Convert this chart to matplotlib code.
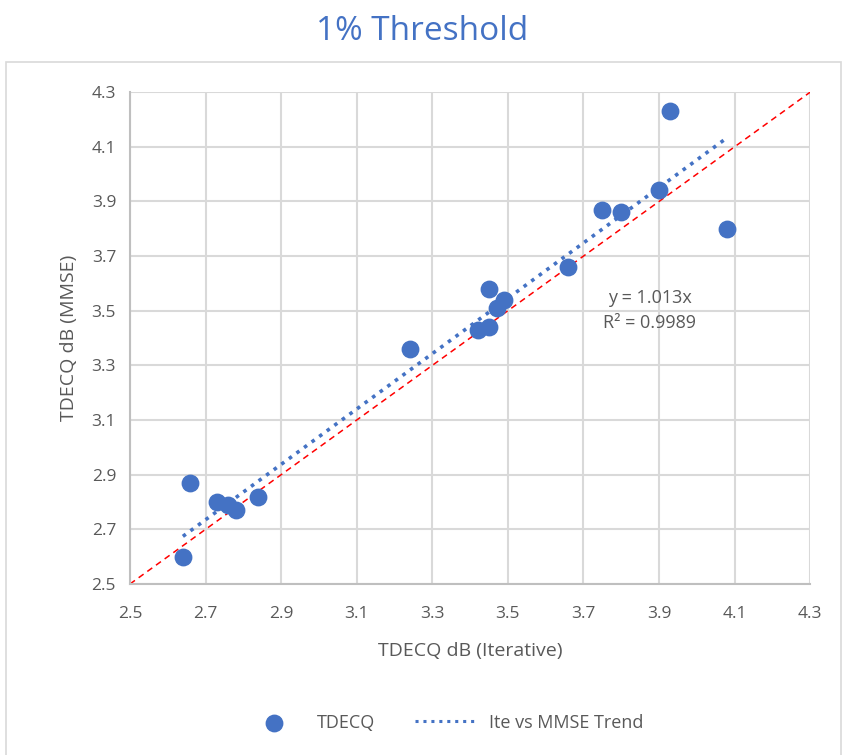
import numpy as np
import matplotlib.pyplot as plt
from matplotlib.patches import Rectangle

# TDECQ values
tdecq_iter = [2.64, 2.66, 2.73, 2.76, 2.78, 2.84, 3.24, 3.42, 3.45, 3.45, 3.47, 3.49, 3.66, 3.75, 3.80, 3.90, 3.93, 4.08]
tdecq_mmse = [2.60, 2.87, 2.80, 2.79, 2.77, 2.82, 3.36, 3.43, 3.44, 3.58, 3.51, 3.54, 3.66, 3.87, 3.86, 3.94, 4.23, 3.80]
slope = 1.013
r2 = 0.9989
ticks = [2.5, 2.7, 2.9, 3.1, 3.3, 3.5, 3.7, 3.9, 4.1, 4.3]

blue = '#4472C4'
grey_txt = '#595959'

plt.rcParams['font.family'] = ['Open Sans', 'DejaVu Sans']

fig = plt.figure(figsize=(8.44, 7.55), dpi=100)
ax = fig.add_axes([0.154, 0.2265, 0.806, 0.6515])

# рамка вокруг области графика
fig.patches.append(Rectangle((0.007, -0.01), 0.99, 0.928, transform=fig.transFigure,
                             fill=False, edgecolor='#D9D9D9', linewidth=1.2))

ax.plot([2.5, 4.3], [2.5, 4.3], color='red', linestyle=(0, (4, 3)), linewidth=1.1, zorder=2)
ax.scatter(tdecq_iter, tdecq_mmse, s=140, color=blue, zorder=3, label='TDECQ')
xt = np.array([min(tdecq_iter), max(tdecq_iter)])
ax.plot(xt, slope * xt, color=blue, linestyle=(0, (1, 1.6)), linewidth=2.6, zorder=2,
        label='Ite vs MMSE Trend')

ax.text(3.875, 3.5, f'y = {slope:.3f}x\nR² = {r2}',
        ha='center', va='center', fontsize=13, color=grey_txt, linespacing=1.5)

ax.set_xlim(2.5, 4.3)
ax.set_ylim(2.5, 4.3)
ax.set_xticks(ticks)
ax.set_yticks(ticks)
ax.set_xticklabels([f'{t:.1f}' for t in ticks])
ax.set_yticklabels([f'{t:.1f}' for t in ticks])
ax.tick_params(length=0, labelsize=12.5, labelcolor=grey_txt)
ax.tick_params(axis='x', pad=16)
ax.tick_params(axis='y', pad=10)
ax.grid(True, color='#D9D9D9', linewidth=1.5)
ax.set_axisbelow(True)
for s in ['top', 'right']:
    ax.spines[s].set_visible(False)
for s in ['left', 'bottom']:
    ax.spines[s].set_color('#BFBFBF')
    ax.spines[s].set_linewidth(1.5)

ax.set_xlabel('TDECQ dB (Iterative)', fontsize=14, color=grey_txt, labelpad=14)
ax.set_ylabel('TDECQ dB (MMSE)', fontsize=14, color=grey_txt, labelpad=10)
fig.suptitle('1% Threshold', fontsize=24, color=blue, y=0.98)

leg = fig.legend(loc='center', bbox_to_anchor=(0.525, 0.043), ncol=2, frameon=False,
                 fontsize=13, labelcolor=grey_txt, columnspacing=2.2, handlelength=3.5,
                 handletextpad=0.6)
leg.get_lines()[0].set_linewidth(2.2)

fig.savefig('out.png', dpi=100)
